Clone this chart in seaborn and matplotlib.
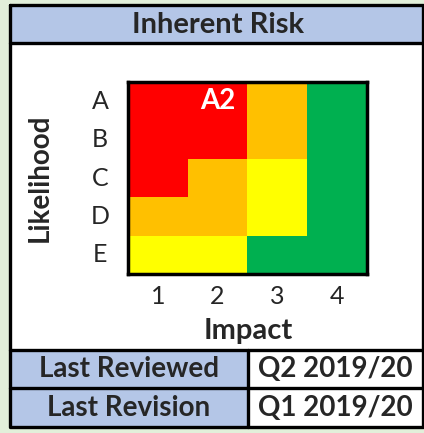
import numpy as np
import pandas as pd
import seaborn as sns
import matplotlib.pyplot as plt
from matplotlib.colors import ListedColormap
from matplotlib.patches import Rectangle

### DATA ###
likelihood = ['A', 'B', 'C', 'D', 'E']
impact = ['1', '2', '3', '4']
# 0 = green, 1 = yellow, 2 = amber, 3 = red
risk_levels = [
    [3, 3, 2, 0],
    [3, 3, 2, 0],
    [3, 2, 1, 0],
    [2, 2, 1, 0],
    [1, 1, 0, 0],
]
current_rating = 'A2'
title = 'Inherent Risk'
info_labels = ['Last Reviewed', 'Last Revision']
info_values = ['Q2 2019/20', 'Q1 2019/20']

risk_colors = ['#00B050', '#FFFF00', '#FFC000', '#FF0000']

sns.set_style('white')
plt.rcParams['font.family'] = ['Lato', 'DejaVu Sans']

W, H = 424, 433
fig = plt.figure(figsize=(W / 100, H / 100), dpi=100)
fig.patch.set_facecolor('#E2EFDA')

# background layer in pixel coords
bg = fig.add_axes([0, 0, 1, 1])
bg.set_xlim(0, W)
bg.set_ylim(H, 0)
bg.axis('off')

left, right, top, bottom = 10, 423, 5, 427
bg.add_patch(Rectangle((left, top), right - left, bottom - top, facecolor='white', edgecolor='none'))
# title band
bg.add_patch(Rectangle((left, top), right - left, 38, facecolor='#B4C6E7', edgecolor='none'))
bg.text((left + right) / 2 + 2, top + 20, title, ha='center', va='center', fontsize=21, fontweight='bold')
# info table
row_tops = [350, 388]
for i, (lab, val) in enumerate(zip(info_labels, info_values)):
    y0 = row_tops[i]
    h = (row_tops[i + 1] if i + 1 < len(row_tops) else bottom) - y0
    bg.add_patch(Rectangle((left, y0), 248 - left, h, facecolor='#B4C6E7', edgecolor='none'))
    bg.text((left + 248) / 2, y0 + h / 2, lab, ha='center', va='center', fontsize=20, fontweight='bold')
    bg.text((248 + right) / 2, y0 + h / 2, val, ha='center', va='center', fontsize=20, fontweight='bold')

lw = 2.4
bg.plot([left, right, right, left, left], [top, top, bottom, bottom, top], color='black', lw=lw)
bg.plot([left, right], [top + 38, top + 38], color='black', lw=lw)
for y in row_tops:
    bg.plot([left, right], [y, y], color='black', lw=lw)
bg.plot([248, 248], [row_tops[0], bottom], color='black', lw=lw)

### HEATMAP ###
df = pd.DataFrame(risk_levels, index=likelihood, columns=impact)
annot = np.full(df.shape, '', dtype=object)
r, c = likelihood.index(current_rating[0]), impact.index(current_rating[1:])
annot[r, c] = current_rating

hx0, hx1, hy0, hy1 = 128, 367, 82, 274
ax = fig.add_axes([hx0 / W, 1 - hy1 / H, (hx1 - hx0) / W, (hy1 - hy0) / H])
sns.heatmap(df, cmap=ListedColormap(risk_colors), vmin=-0.5, vmax=3.5, cbar=False,
            annot=annot, fmt='', annot_kws={'color': 'white', 'fontweight': 'bold', 'fontsize': 20},
            ax=ax)
for s in ax.spines.values():
    s.set_visible(True)
    s.set_color('black')
    s.set_linewidth(2.5)
ax.tick_params(length=0, labelsize=18, pad=8)
ax.tick_params(axis='y', pad=20)
ax.set_yticklabels(likelihood, rotation=0, ha='center')
ax.set_xticklabels(impact, rotation=0)
ax.set_xlabel('Impact', fontsize=21, fontweight='bold')
ax.set_ylabel('Likelihood', fontsize=20, fontweight='bold')
ax.xaxis.set_label_coords((248 - hx0) / (hx1 - hx0), (hy1 - 318) / (hy1 - hy0))
ax.yaxis.set_label_coords((53 - hx0) / (hx1 - hx0), 0.5)

fig.savefig('out.png', dpi=100, facecolor=fig.get_facecolor())
